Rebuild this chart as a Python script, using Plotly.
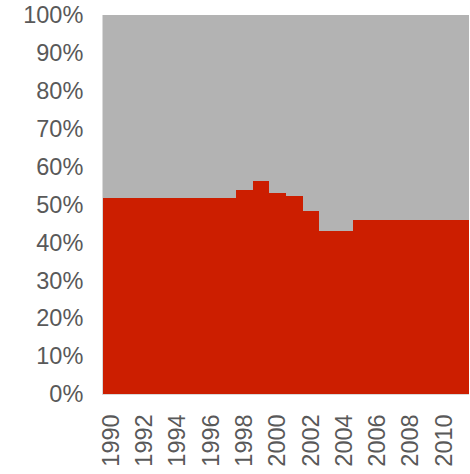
import plotly.graph_objects as go

RED = "#CC1E00"
GREY = "#B3B3B3"
TEXT = "#595959"

years = list(range(1990, 2012))
red_share = [51.6, 51.6, 51.6, 51.6, 51.6, 51.6, 51.6, 51.6,
             53.8, 56.2, 53.0, 52.3, 48.4, 43.1, 42.9,
             45.9, 45.9, 45.9, 45.9, 45.9, 45.9, 45.9]
grey_share = [100 - v for v in red_share]
year_ticks = list(range(1990, 2011, 2))

fig = go.Figure()
fig.add_trace(go.Bar(x=years, y=red_share, marker=dict(color=RED, line=dict(width=0)),
                     name="share"))
fig.add_trace(go.Bar(x=years, y=grey_share, marker=dict(color=GREY, line=dict(width=0)),
                     name="rest"))

fig.update_layout(
    width=470, height=474,
    barmode="stack", bargap=0,
    paper_bgcolor="white", plot_bgcolor="white",
    font=dict(family="Liberation Sans, Arial, sans-serif", color=TEXT, size=23.5),
    margin=dict(l=103, r=1, t=15, b=80, autoexpand=False),
    showlegend=False,
    xaxis=dict(
        range=[1989.5, 2011.5],
        tickvals=year_ticks,
        ticktext=[str(y) for y in year_ticks],
        tickangle=-90,
        showgrid=False, zeroline=False,
        showline=True, linecolor="#D9D9D9", linewidth=1,
        ticks="", ticklabelstandoff=10, automargin=False,
        ticklabeloverflow="allow",
    ),
    yaxis=dict(
        range=[0, 100], dtick=10, ticksuffix="%",
        showgrid=False, zeroline=False,
        showline=True, linecolor="#D9D9D9", linewidth=1,
        ticks="", ticklabelstandoff=14, automargin=False,
        ticklabeloverflow="allow",
    ),
)

# drop the default page margin so the figure sits at the window's corner
fig.write_html("out.html", config={"responsive": False, "displayModeBar": False},
               post_script="document.body.style.margin = '0';")
